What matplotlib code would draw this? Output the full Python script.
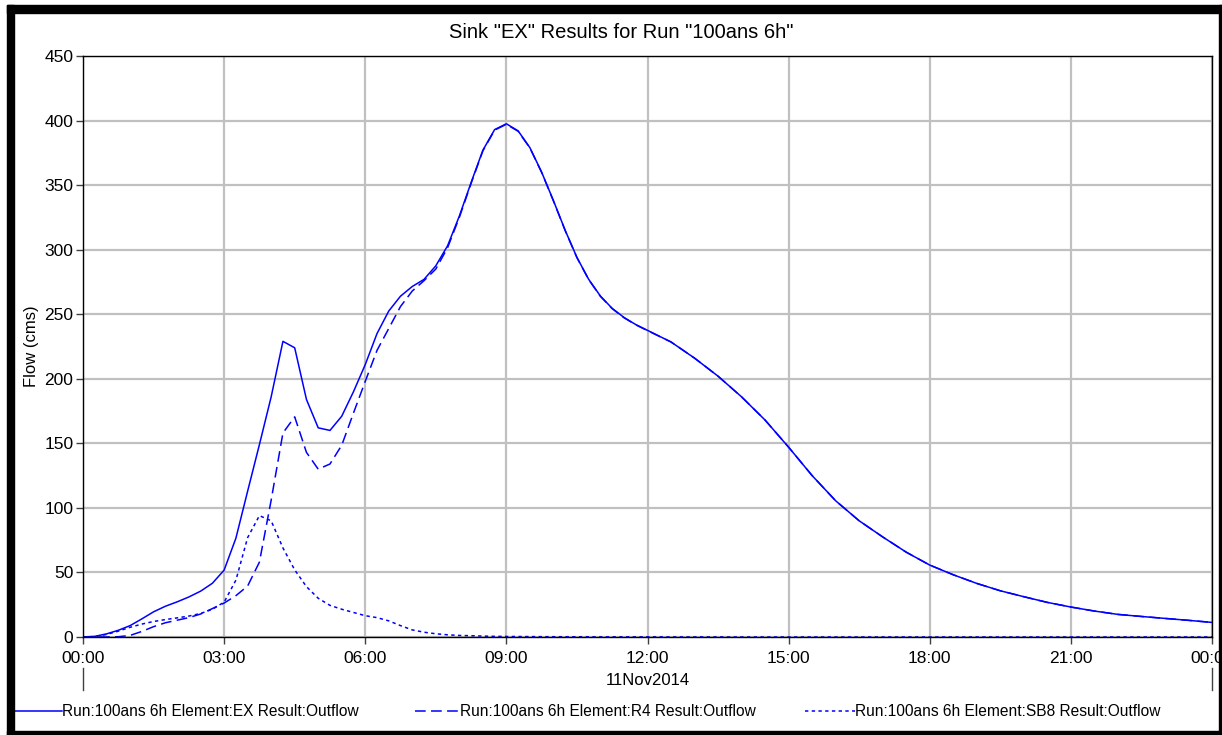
import numpy as np
import matplotlib
matplotlib.use("Agg")
import matplotlib.pyplot as plt
from matplotlib.lines import Line2D
from matplotlib.patches import Rectangle

plt.rcParams['font.family'] = ['Liberation Sans', 'DejaVu Sans']

# time axis: 15 min steps up to 12:00, then 30 min steps up to 24:00
hours = np.concatenate([np.arange(0, 12.01, 0.25), np.arange(12.5, 24.01, 0.5)])

ex_flow = [0, 0.5, 2.4, 5.2, 8.8, 14, 19.5, 23.8, 27.2, 31, 35.5, 41.6,
           51.8, 76.5, 113, 149, 186, 229, 224, 184, 162, 160, 171, 190,
           211, 235, 252.5, 264, 271.5, 277, 287.5, 303, 326, 352, 377, 393,
           397.5, 392, 379, 360, 338, 315, 294, 277, 264, 254.5, 247.5, 242,
           237.5,
           228.5, 216, 202, 186, 168, 147, 125, 105.5, 90, 77.5, 65.7, 55.7,
           48.2, 41.5, 35.8, 31.2, 26.8, 23.2, 20.1, 17.5, 15.9, 14.4, 12.9, 11.3]

r4_flow = [0, 0, 0, 0.2, 1.2, 4.3, 8, 11, 13, 15, 17.8, 22,
           26.3, 32, 39.5, 58, 106, 158, 170.5, 143, 130, 134, 148.5, 173.5,
           198, 222, 239, 256, 268, 276, 285, 301.5, 325, 351.3, 376.5, 392.6,
           397.1, 391.7, 378.8, 359.8, 337.8, 314.8, 293.8, 276.8, 263.8, 254.3, 247.3, 241.8,
           237.3,
           228.5, 216, 202, 186, 168, 147, 125, 105.5, 90, 77.5, 65.7, 55.7,
           48.2, 41.5, 35.8, 31.2, 26.8, 23.2, 20.1, 17.5, 15.9, 14.4, 12.9, 11.3]

sb8_flow = [0, 0.3, 2, 4.5, 7.5, 10, 12, 13.5, 14.8, 16.2, 18.2, 21.5,
            27, 44, 77, 94, 90, 69, 52, 39, 30, 24.5, 21.5, 19,
            16.5, 15, 12.5, 8.8, 5.5, 3.7, 2.5, 1.7, 1.2, 1, 0.7, 0.5,
            0.4, 0.35, 0.3, 0.25, 0.2, 0.2, 0.15, 0.15, 0.1, 0.1, 0.1, 0.1,
            0.1,
            0.05, 0.05, 0.05, 0, 0, 0, 0, 0, 0, 0, 0, 0,
            0, 0, 0, 0, 0, 0, 0, 0, 0, 0, 0, 0]

tick_hours = [0, 3, 6, 9, 12, 15, 18, 21, 24]
tick_labels = ["00:00", "03:00", "06:00", "09:00", "12:00", "15:00", "18:00", "21:00", "00:00"]
legend_labels = ["Run:100ans 6h Element:EX Result:Outflow",
                 "Run:100ans 6h Element:R4 Result:Outflow",
                 "Run:100ans 6h Element:SB8 Result:Outflow"]

W, H = 1222, 735
fig = plt.figure(figsize=(W / 100, H / 100), dpi=100)
ax = fig.add_axes([83 / W, 1 - 637 / H, (1212 - 83) / W, (637 - 56) / H])

blue = "#0000ff"
ax.plot(hours, ex_flow, color=blue, lw=1.1, ls="-")
ax.plot(hours, r4_flow, color=blue, lw=1.1, ls=(0, (7, 3.5)))
ax.plot(hours, sb8_flow, color=blue, lw=1.1, ls=(0, (2.2, 2.2)))

ax.set_xlim(0, 24)
ax.set_ylim(0, 450)
ax.set_xticks(tick_hours)
ax.set_xticklabels(tick_labels)
ax.set_yticks(range(0, 451, 50))
ax.grid(True, color="#c0c0c0", lw=1.6)
ax.set_axisbelow(True)
ax.tick_params(axis="both", direction="out", length=5, width=1, labelsize=12.5, color="#404040")
ax.tick_params(axis="x", pad=5)
ax.tick_params(axis="y", pad=2)
for sp in ax.spines.values():
    sp.set_color("black")
    sp.set_linewidth(1)

fig.text(621 / W, 1 - 33 / H, 'Sink "EX" Results for Run "100ans 6h"',
         ha="center", va="center", fontsize=14.5)
ax.set_ylabel("Flow (cms)", fontsize=12)
ax.yaxis.set_label_coords(-(83 - 39) / (1212 - 83), 0.5)

# date label under the time axis
ax.text(12, -0.075, "11Nov2014", transform=ax.get_xaxis_transform(),
        ha="center", va="center", fontsize=12)
for xh in (0, 24):
    ax.plot([xh, xh], [-0.053, -0.092], color="#404040", lw=1,
            transform=ax.get_xaxis_transform(), clip_on=False)

# legend row under the chart
styles = ["-", (0, (7, 3.5)), (0, (2.2, 2.2))]
handle_x = [(12, 62), (415, 460), (805, 855)]
y_leg = 1 - 711 / H
for (x0, x1), st, lab in zip(handle_x, styles, legend_labels):
    fig.add_artist(Line2D([x0 / W, x1 / W], [y_leg, y_leg], color=blue, lw=1.1, ls=st))
    fig.text(x1 / W, y_leg, lab, ha="left", va="center", fontsize=11.2)

# window frame: thick top/left, thin bottom/right
frame = [(7, 5, W - 7, 8), (7, 5, 7, H - 5), (W - 3, 5, 3, H - 5), (7, H - 4, W - 7, 4)]
for x, y, w, h in frame:
    fig.add_artist(Rectangle((x / W, 1 - (y + h) / H), w / W, h / H,
                             transform=fig.transFigure, color="black", zorder=10))

fig.savefig("out.png", dpi=100)
